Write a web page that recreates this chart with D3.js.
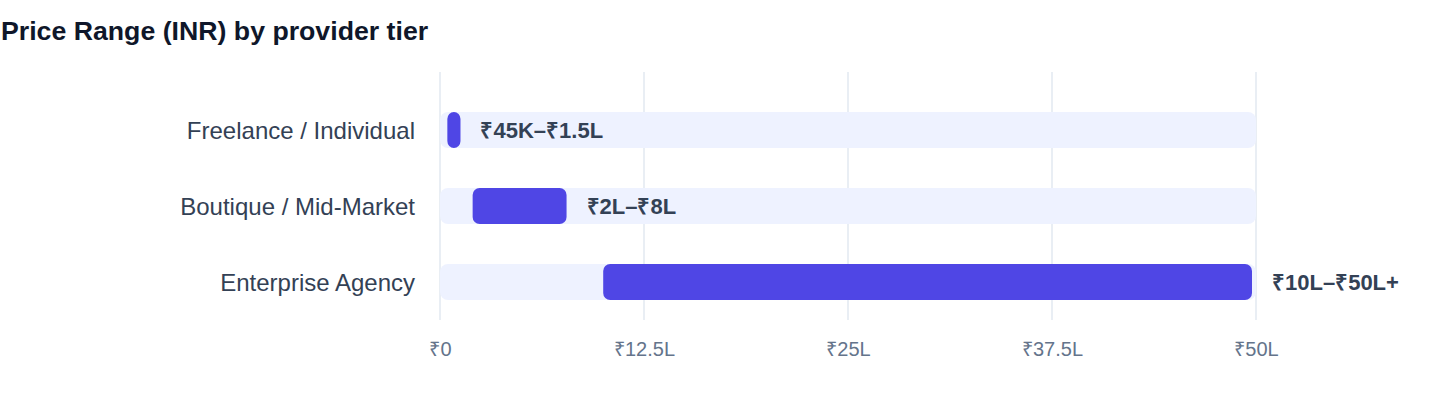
<!DOCTYPE html>
<html>
  <head>
    <script src="https://cdn.jsdelivr.net/npm/d3@7"></script>
<style>
  body {
      margin: 0;
      background: #ffffff;
      font-family: "Liberation Sans", Arial, Helvetica, sans-serif;
  }
  .title {
      font-weight: 700;
      fill: #0f172a;
  }
</style>
  </head>
  <body>
    <div id="vis"></div>
    <script type="text/javascript">

        // data (values in lakh INR)
        const tiers = ["Freelance / Individual", "Boutique / Mid-Market", "Enterprise Agency"];
        const lows = [0.45, 2, 10];
        const highs = [1.5, 8, 50];
        const rangeLabels = ["₹45K–₹1.5L", "₹2L–₹8L", "₹10L–₹50L+"];
        const tickValues = [0, 12.5, 25, 37.5, 50];
        const tickLabels = ["₹0", "₹12.5L", "₹25L", "₹37.5L", "₹50L"];
        const domainMax = 50;

        var w = 1440;
        var h = 408;
        var rows = tiers.map((t, i) => ({tier: t, lo: lows[i], hi: highs[i], label: rangeLabels[i]}));

        const svg = d3.select("#vis")
            .append("svg")
            .attr("width", w)
            .attr("height", h)
            .attr("viewBox", [0, 0, w, h]);

        var xScale = d3.scaleLinear().domain([0, domainMax]).range([440, 1256]);
        var yScale = d3.scaleBand().domain(tiers).range([92, 320]).padding(0);
        var barH = 36;
        var cy = d => yScale(d) + yScale.bandwidth() / 2;

        svg.append("text")
            .attr("class", "title")
            .attr("x", 1)
            .attr("y", 40)
            .attr("font-size", 26.7)
            .text("Price Range (INR) by provider tier");

        // vertical grid lines
        svg.append("g")
            .selectAll("line")
            .data(tickValues)
            .join("line")
            .attr("x1", d => xScale(d))
            .attr("x2", d => xScale(d))
            .attr("y1", 72)
            .attr("y2", 320)
            .attr("stroke", "#e2e8f0")
            .attr("stroke-width", 1.5);

        // bottom axis labels
        var axis = d3.axisBottom(xScale)
            .tickValues(tickValues)
            .tickFormat((d, i) => tickLabels[i])
            .tickSize(0)
            .tickPadding(0);
        var gx = svg.append("g")
            .attr("transform", "translate(0,356)")
            .call(axis);
        gx.select(".domain").remove();
        gx.selectAll("text")
            .attr("dy", 0)
            .attr("font-family", "Liberation Sans, Arial, sans-serif")
            .attr("font-size", 20)
            .attr("fill", "#64748b");

        // tracks
        svg.append("g")
            .selectAll("rect")
            .data(rows)
            .join("rect")
            .attr("x", xScale(0))
            .attr("y", d => cy(d.tier) - barH / 2)
            .attr("width", xScale(domainMax) - xScale(0))
            .attr("height", barH)
            .attr("rx", 8)
            .attr("fill", "#eef2ff");

        // range bars
        svg.append("g")
            .selectAll("rect")
            .data(rows)
            .join("rect")
            .attr("x", d => xScale(d.lo))
            .attr("y", d => cy(d.tier) - barH / 2)
            .attr("width", d => Math.max(0, xScale(d.hi) - xScale(d.lo) - 4))
            .attr("height", barH)
            .attr("rx", 7)
            .attr("fill", "#4f46e5");

        // range value labels
        svg.append("g")
            .selectAll("text")
            .data(rows)
            .join("text")
            .attr("x", d => xScale(d.hi) + 16)
            .attr("y", d => cy(d.tier))
            .attr("dy", "0.36em")
            .attr("font-size", 22)
            .attr("font-weight", 700)
            .attr("fill", "#334155")
            .text(d => d.label);

        // category labels
        svg.append("g")
            .selectAll("text")
            .data(rows)
            .join("text")
            .attr("x", 415)
            .attr("y", d => cy(d.tier))
            .attr("dy", "0.36em")
            .attr("text-anchor", "end")
            .attr("font-size", 24)
            .attr("fill", "#334155")
            .text(d => d.tier);

    </script>
  </body>
</html>
